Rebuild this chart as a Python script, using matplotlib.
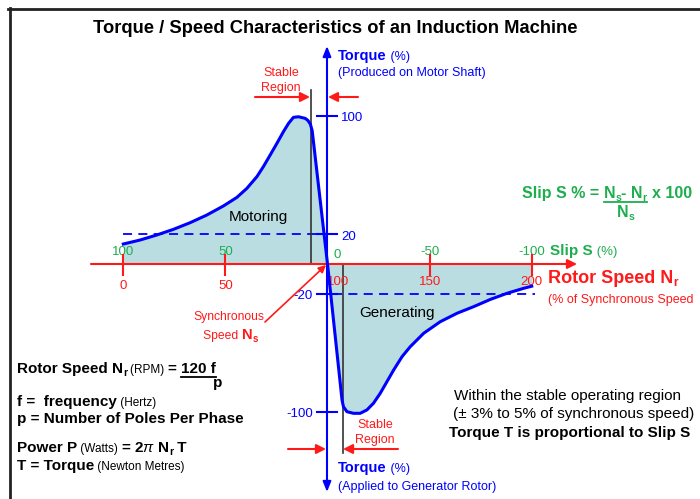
import matplotlib
matplotlib.use("Agg")
import matplotlib.pyplot as plt
from matplotlib.lines import Line2D
from matplotlib.transforms import Affine2D

plt.rcParams['font.family'] = ['Liberation Sans', 'DejaVu Sans']
plt.rcParams['mathtext.fontset'] = 'custom'
plt.rcParams['mathtext.rm'] = 'Liberation Sans'
plt.rcParams['mathtext.it'] = 'Liberation Sans:italic'
plt.rcParams['mathtext.bf'] = 'Liberation Sans:bold'

# rotor speed (% of synchronous speed) against shaft torque (%)
speed = [0, 8.2, 16.4, 24.5, 32.7, 40.9, 49, 55.6, 60.5, 65.4, 68.6, 71.9, 75.2,
         78.4, 80.9, 83.3, 85.8, 89.1, 90.4, 91.6, 92.5, 100,
         107.1, 107.8, 109.5, 112.7, 116, 119.3, 122.5, 125.8, 129.1, 132.4,
         136.5, 140.5, 147.1, 155.2, 163.4, 171.6, 179.8, 187.9, 196.1, 200]
torque = [13.5, 16.2, 19.6, 23.4, 27.9, 33.1, 39.2, 45, 51.1, 59, 65.8, 73.6, 81.5,
          89.4, 95, 99.1, 99.5, 98.4, 97, 94.5, 90, 0,
          -91.9, -96.4, -99.8, -100.9, -100.9, -98.6, -94.1, -87.4, -79.5, -71.6,
          -62.6, -55.9, -46.8, -39, -33.3, -28.8, -23.9, -19.8, -16.4, -15]

speed_ticks = [0, 50, 100, 150, 200]
slip_ticks = [100, 50, 0, -50, -100]
torque_ticks = [100, 20, -20, -100]
stable_motor = 92
stable_gen = 107.5

RED = '#ff1a1a'
BLUE = '#0000ff'
GREEN = '#1eae4e'

W, H = 700, 499
fig = plt.figure(figsize=(W / 100, H / 100), dpi=100)
PX = Affine2D().scale(1, -1).translate(0, H)   # pixel coords, origin top-left

ax = fig.add_axes([0, 0, 1, 1])
ax.set_xlim(-60.38, 282.4)
ax.set_ylim(-158.8, 178.4)
ax.axis('off')


def run(x, y, parts):
    """write text pieces one after the other on a baseline, return end x.
    a piece is (text, props) or (text, props, drop) where drop lowers it (subscripts)"""
    r = fig.canvas.get_renderer()
    for p in parts:
        s, kw = p[0], p[1]
        dy = p[2] if len(p) > 2 else 0
        t = fig.text(x, y + dy, s, transform=PX, va='baseline', ha='left', **kw)
        x += t.get_window_extent(r).width
    return x


def sub(kw, size):
    d = dict(kw)
    d['fontsize'] = size
    return d


def arrow(p0, p1, color, lw=1.5, ms=14, style='-|>'):
    ax.annotate('', xy=p1, xytext=p0, xycoords=PX, textcoords=PX,
                arrowprops=dict(arrowstyle=style, color=color, lw=lw,
                                mutation_scale=ms, shrinkA=0, shrinkB=0))


# frame
fig.add_artist(Line2D([8, 700], [9, 9], transform=PX, color='#222222', lw=2))
fig.add_artist(Line2D([9.5, 9.5], [8, 499], transform=PX, color='#222222', lw=2))

# the curve and its shading
ax.fill_between(speed, torque, 0, color='#b9dde1', lw=0, zorder=1)
ax.plot([0, 100], [20, 20], color=BLUE, lw=1.3, ls=(0, (5, 3.5)), zorder=2)
ax.plot([102.5, 201.8], [-20, -20], color=BLUE, lw=1.3, ls=(0, (5, 3.5)), zorder=2)
ax.plot([stable_motor, stable_motor], [0, 117.5], color='#333333', lw=1.2, zorder=3)
ax.plot([stable_gen, stable_gen], [0, -127.5], color='#333333', lw=1.2, zorder=3)
ax.plot(speed, torque, color=BLUE, lw=2.2, zorder=4, solid_joinstyle='round')

# speed axis
arrow((91, 264), (577, 264), RED, lw=1.5, ms=14)
for s in speed_ticks:
    if s != 100:
        ax.plot([s, s], [6.1, -7.4], color=RED, lw=1.5, zorder=5)
    dx = 5.3 if s == 100 else 0
    dy = -14.2 if s >= 100 else -16.9
    ax.text(s + dx, dy, str(s), color=RED, fontsize=9.5, ha='center', va='baseline')
for sl in slip_ticks:
    s = 100 - sl
    dx = 4.6 if sl == 0 else 0
    dy = 4.0 if sl == 0 else 5.9
    ax.text(s + dx, dy, str(sl), color=GREEN, fontsize=9.5, ha='center', va='baseline')

# torque axis
arrow((327, 492), (327, 46), BLUE, lw=1.5, ms=12,
      style='<|-|>,head_length=0.5,head_width=0.2')
for tq in torque_ticks:
    ax.plot([95, 104.8], [tq, tq], color=BLUE, lw=1.5, zorder=5)
    if tq > 0:
        ax.text(106.6, tq - 3.5, str(tq), color=BLUE, fontsize=9.5, ha='left', va='baseline')
    else:
        ax.text(92.9, tq - 3.5, str(tq), color=BLUE, fontsize=9.5, ha='right', va='baseline')

# title
fig.text(335, 33, 'Torque / Speed Characteristics of an Induction Machine', transform=PX,
         ha='center', va='baseline', fontsize=13.2, weight='bold')

# axis captions
run(338, 60, [('Torque', dict(color=BLUE, weight='bold', fontsize=10.5)),
              (' (%)', dict(color=BLUE, fontsize=9))])
fig.text(338, 76, '(Produced on Motor Shaft)', transform=PX, color=BLUE, fontsize=9)
run(338, 472, [('Torque', dict(color=BLUE, weight='bold', fontsize=10.5)),
               (' (%)', dict(color=BLUE, fontsize=9))])
fig.text(338, 490, '(Applied to Generator Rotor)', transform=PX, color=BLUE, fontsize=9)

run(550, 255, [('Slip S', dict(color=GREEN, weight='bold', fontsize=11)),
               (' (%)', dict(color=GREEN, fontsize=9.5))])
rb = dict(color=RED, weight='bold', fontsize=13)
run(548, 283, [('Rotor Speed N', rb), ('r', sub(rb, 8.5), 3)])
fig.text(548, 303, '(% of Synchronous Speed', transform=PX, color=RED, fontsize=9)

# stable region markers
for y0, x0 in [(76, 281), (428, 375)]:
    fig.text(x0, y0, 'Stable', transform=PX, ha='center', color=RED, fontsize=9)
    fig.text(x0, y0 + 15, 'Region', transform=PX, ha='center', color=RED, fontsize=9)
arrow((255, 97), (310, 97), RED)
arrow((358, 97), (328, 97), RED)
arrow((288, 449), (326, 449), RED)
arrow((398, 449), (343, 449), RED)

# synchronous speed pointer
arrow((265, 322), (326, 265), RED, lw=1.2, ms=11)
fig.text(229, 320, 'Synchronous', transform=PX, ha='center', color=RED, fontsize=8.7)
rs = dict(color=RED, weight='bold', fontsize=10.5)
run(203, 339, [('Speed ', dict(color=RED, fontsize=8.7)), ('N', rs), ('s', sub(rs, 7), 3)])

fig.text(258, 221, 'Motoring', transform=PX, ha='center', fontsize=11)
fig.text(397, 317, 'Generating', transform=PX, ha='center', fontsize=11)

# slip formula
g = dict(color=GREEN, weight='bold', fontsize=11.5)
gs = sub(g, 7.5)
x0 = run(522, 198, [('Slip S % = ', g)])
x1 = run(x0, 198, [('N', g), ('s', gs, 3), ('- N', g), ('r', gs, 3)])
fig.add_artist(Line2D([x0, x1], [202, 202], transform=PX, color=GREEN, lw=1.3))
run(x1 + 5, 198, [('x 100', g)])
run((x0 + x1) / 2 - 8, 217, [('N', g), ('s', gs, 3)])

# formulas, lower left
b = dict(weight='bold', fontsize=11)
bs = sub(b, 7.5)
sm = dict(fontsize=8.5)
x0 = run(17, 373, [('Rotor Speed N', b), ('r', bs, 3)])
x0 = run(x0 + 3, 373, [('(RPM) ', sm), ('= ', b)])
x1 = run(x0, 373, [('120 f', b)])
fig.add_artist(Line2D([x0, x1], [376.5, 376.5], transform=PX, color='black', lw=1.3))
fig.text(x1 + 2, 387, 'p', transform=PX, ha='center', **b)
run(17, 406, [('f =  frequency', b), (' (Hertz)', sm)])
run(17, 423, [('p = Number of Poles Per Phase', b)])
run(17, 452, [('Power P', b), (' (Watts) ', sm), (r'= 2$\pi$ N', b), ('r', bs, 3), (' T', b)])
run(17, 470, [('T = Torque', b), (' (Newton Metres)', sm)])

# stable band note
fig.text(568, 400, 'Within the stable operating region', transform=PX, ha='center', fontsize=11)
fig.text(574, 418, '(\u00b1 3% to 5% of synchronous speed)', transform=PX, ha='center', fontsize=11)
fig.text(570, 437, 'Torque T is proportional to Slip S', transform=PX, ha='center',
         fontsize=11, weight='bold')

plt.savefig('out.png', dpi=100)
